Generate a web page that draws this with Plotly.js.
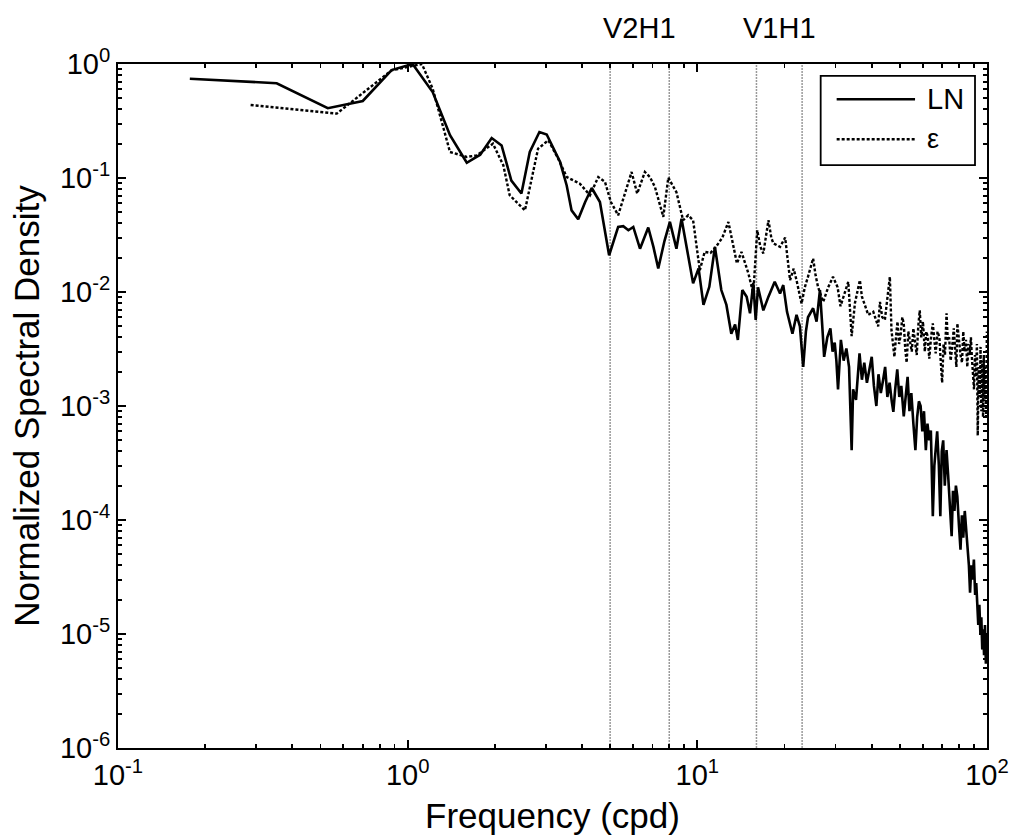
<!DOCTYPE html>
<html>
<head>
<meta charset="utf-8">
<script src="https://cdn.plot.ly/plotly-3.0.1.min.js"></script>
<style>html,body{margin:0;padding:0;background:#fff;}#chart{width:1013px;height:838px;}</style>
</head>
<body>
<div id="chart"></div>
<script>
// ---- data ----
var lnFreq = [0.177,0.353,0.53,0.70,0.88,1.04,1.22,1.40,1.60,1.78,1.95,2.11,2.28,2.47,2.64,2.85,3.02,3.2,3.36,3.54,3.68,3.88,4.10,4.32,4.61,4.96,5.33,5.55,5.78,6.01,6.34,6.77,7.05,7.33,7.7,8.04,8.47,8.82,9.2,9.67,10.1,10.5,11.0,11.5,12.1,12.6,13.1,13.5,13.8,14.3,14.8,15.2,15.6,15.9,16.2,16.9,17.6,18.5,19.3,19.8,20.4,21.3,22.0,22.6,23.2,23.7,24.1,25.1,25.8,26.5,27.0,27.4,28.1,28.8,29.3,29.8,30.2,30.6,31.3,32.0,32.7,33.4,34.1,34.5,35.3,35.8,36.3,37.0,37.7,38.5,39.2,40.0,40.7,41.5,42.2,43.0,43.8,44.5,45.3,46.1,46.9,47.5,48.2,49.0,49.8,50.6,51.6,52.4,53.2,54.0,54.8,55.7,56.6,57.4,58.2,59.0,59.8,60.6,61.5,62.3,63.2,64.0,64.5,65.0,65.8,66.5,67.3,68.2,69.0,69.8,70.6,71.5,72.5,73.4,74.4,75.5,76.3,77.2,78.1,79.0,80.0,81.0,81.9,82.8,83.8,84.8,85.7,86.6,87.4,88.3,89.2,90.1,91.0,91.8,92.5,93.3,94.1,94.9,95.6,96.3,97.0,97.7,98.4,99.1,99.8];
var lnPower = [0.743,0.678,0.409,0.474,0.885,1.0,0.567,0.237,0.136,0.16,0.224,0.193,0.095,0.073,0.169,0.253,0.241,0.18,0.138,0.086,0.052,0.0435,0.0616,0.0817,0.0616,0.021,0.0372,0.0378,0.0348,0.0372,0.024,0.0368,0.025,0.0161,0.028,0.0412,0.024,0.044,0.025,0.0119,0.0161,0.0077,0.0111,0.0249,0.0104,0.0077,0.0043,0.0052,0.0038,0.0104,0.0091,0.0065,0.012,0.0057,0.011,0.0069,0.0091,0.0123,0.0097,0.0115,0.0067,0.0043,0.0063,0.005,0.0022,0.0045,0.006,0.0072,0.0055,0.0104,0.005,0.0027,0.004,0.0048,0.003,0.0036,0.0025,0.0014,0.0038,0.0025,0.0032,0.0022,0.00041,0.0014,0.00113,0.002,0.0029,0.0017,0.0024,0.0016,0.0021,0.0027,0.0015,0.0010,0.0019,0.0013,0.0017,0.0022,0.0012,0.0016,0.0011,0.00089,0.0014,0.0021,0.0012,0.0015,0.00081,0.0013,0.0018,0.0009,0.0013,0.0007,0.00041,0.0008,0.0011,0.001,0.0006,0.0009,0.00041,0.0007,0.0005,0.00061,0.00025,0.000108,0.0003,0.00044,0.0006,0.0003,0.000108,0.0004,0.0005,0.0002,0.00041,0.00025,0.00015,0.000072,0.00018,0.00012,0.0002,0.00016,0.00009,0.000055,0.00011,0.00007,0.00012,0.00008,0.00005,0.00004,0.000023,0.00004,0.00003,0.000045,0.000022,0.000028,0.000019,0.000012,0.000018,0.00001,0.000014,0.0000073,0.000011,0.0000065,0.000012,0.0000055,0.00001];

var epsFreq = [0.287,0.569,0.88,1.12,1.22,1.40,1.60,1.73,1.97,2.14,2.25,2.54,2.82,3.06,3.30,3.54,3.93,4.26,4.55,4.80,5.03,5.33,5.93,6.20,6.59,6.86,7.14,7.63,7.94,8.47,8.93,9.30,9.67,10.2,10.6,11.1,11.6,12.2,12.8,13.2,13.7,14.2,15.0,15.6,16.1,16.5,16.9,17.6,18.0,18.3,19.3,20.1,20.9,21.5,22.0,22.9,23.5,24.1,25.1,25.6,26.1,27.2,28.3,29.4,30.5,31.2,31.9,33.2,34.1,35.0,36.4,37.0,38.0,38.9,40.5,41.3,42.1,42.7,43.5,44.4,45.3,46.2,46.8,47.9,48.5,49.1,49.7,50.3,51.0,51.6,52.2,52.8,53.5,54.2,55.0,55.7,56.4,57.2,57.9,58.6,59.3,60.1,61.0,61.7,62.4,63.2,64.1,65.0,65.8,66.5,67.5,68.5,69.2,70.0,70.8,71.6,72.5,73.2,74.0,74.9,76.0,76.8,77.7,78.4,79.0,80.0,81.0,82.0,82.8,83.7,84.6,85.5,86.3,87.1,88.0,88.8,89.5,90.2,90.9,91.6,92.3,92.9,93.6,94.3,95.0,95.6,96.3,96.9,97.5,98.1,98.7,99.3,99.9];
var epsPower = [0.437,0.367,0.88,1.0,0.607,0.169,0.153,0.158,0.20,0.129,0.0706,0.052,0.181,0.214,0.15,0.102,0.0893,0.0706,0.102,0.0923,0.0616,0.0471,0.113,0.073,0.113,0.102,0.0834,0.0456,0.1007,0.075,0.0426,0.0471,0.0426,0.0155,0.0225,0.022,0.0249,0.03,0.0412,0.028,0.0178,0.0225,0.0146,0.0097,0.0348,0.025,0.0218,0.0426,0.03,0.0267,0.0249,0.030,0.0127,0.016,0.0127,0.0079,0.011,0.0136,0.0197,0.014,0.0111,0.0082,0.011,0.0136,0.011,0.0075,0.0091,0.0123,0.0041,0.008,0.0127,0.0091,0.0075,0.0063,0.0067,0.0058,0.005,0.0082,0.006,0.0057,0.009,0.0136,0.0046,0.0027,0.004,0.0055,0.0035,0.0041,0.006,0.0053,0.0032,0.0024,0.0045,0.0038,0.003,0.0048,0.0035,0.0028,0.005,0.0069,0.004,0.0055,0.003,0.0045,0.0041,0.0026,0.004,0.0053,0.0038,0.0029,0.0045,0.004,0.0025,0.0016,0.0035,0.0028,0.0065,0.0038,0.004,0.0025,0.0035,0.0048,0.003,0.0022,0.0053,0.0035,0.0028,0.0024,0.0045,0.003,0.0038,0.0022,0.0035,0.0028,0.004,0.0025,0.0018,0.0014,0.0028,0.0018,0.0035,0.00055,0.0022,0.0012,0.0033,0.0009,0.0025,0.0008,0.0028,0.0011,0.0022,0.0008,0.0045];

var seriesNames = ['LN', 'ε'];
var modeFreqs = [5, 8, 16, 23];
var modeLabels = ['V2H1', 'V1H1'];
var xTickVals = [0.1, 1, 10, 100];
var xTickText = ['10<sup>-1</sup>', '10<sup>0</sup>', '10<sup>1</sup>', '10<sup>2</sup>'];
var yTickVals = [1e-6, 1e-5, 1e-4, 1e-3, 1e-2, 1e-1, 1];
var yTickText = ['10<sup>-6</sup>', '10<sup>-5</sup>', '10<sup>-4</sup>', '10<sup>-3</sup>', '10<sup>-2</sup>', '10<sup>-1</sup>', '10<sup>0</sup>'];

// ---- build ----
var FONT = 'Liberation Sans, Arial, Helvetica, sans-serif';
function minorVals(lo, hi) {
  var v = [];
  for (var e = lo; e < hi; e++) for (var m = 2; m <= 9; m++) v.push(m * Math.pow(10, e));
  return v;
}

var traces = [
  {x: lnFreq, y: lnPower, name: seriesNames[0], type: 'scatter', mode: 'lines',
   line: {color: '#000', width: 2.6}},
  {x: epsFreq, y: epsPower, name: seriesNames[1], type: 'scatter', mode: 'lines',
   line: {color: '#000', width: 2.4, dash: '3px,2px'}}
];

var shapes = modeFreqs.map(function (f) {
  return {type: 'line', xref: 'x', yref: 'paper', x0: f, x1: f, y0: 0, y1: 1,
          line: {color: '#9a9a9a', width: 1.5, dash: '2px,1px'}, layer: 'below'};
});
// legend box drawn as in the reference
shapes.push({type: 'rect', xref: 'paper', yref: 'paper', x0: 0.8086, x1: 0.9862, y0: 0.8523, y1: 0.9825,
             line: {color: '#000', width: 1.8}, fillcolor: '#fff', layer: 'above'});
shapes.push({type: 'line', xref: 'paper', yref: 'paper', x0: 0.827, x1: 0.9172, y0: 0.9484, y1: 0.9484,
             line: {color: '#000', width: 2.6}, layer: 'above'});
shapes.push({type: 'line', xref: 'paper', yref: 'paper', x0: 0.827, x1: 0.9172, y0: 0.8899, y1: 0.8899,
             line: {color: '#000', width: 2.4, dash: '3px,2px'}, layer: 'above'});

var annotations = [
  {text: modeLabels[0], x: Math.log10(Math.sqrt(modeFreqs[0] * modeFreqs[1])), xref: 'x', y: 1.0526, yref: 'paper',
   showarrow: false, xanchor: 'center', yanchor: 'middle', font: {family: FONT, size: 29, color: '#000'}},
  {text: modeLabels[1], x: Math.log10(Math.sqrt(modeFreqs[2] * modeFreqs[3])), xref: 'x', y: 1.0526, yref: 'paper',
   showarrow: false, xanchor: 'center', yanchor: 'middle', font: {family: FONT, size: 29, color: '#000'}},
  {text: seriesNames[0], x: 0.9287, xref: 'paper', y: 0.9484, yref: 'paper', showarrow: false,
   xanchor: 'left', yanchor: 'middle', font: {family: FONT, size: 29, color: '#000'}},
  {text: seriesNames[1], x: 0.9287, xref: 'paper', y: 0.8899, yref: 'paper', showarrow: false,
   xanchor: 'left', yanchor: 'middle', font: {family: FONT, size: 27, color: '#000'}}
];

var axisCommon = {
  type: 'log', showgrid: false, zeroline: false, showline: true, linecolor: '#000', linewidth: 2,
  mirror: 'allticks', ticks: 'inside', ticklen: 8, tickwidth: 1.8, tickcolor: '#000',
  tickmode: 'array', tickfont: {family: FONT, size: 29, color: '#000'}
};

var layout = {
  width: 1013, height: 838,
  margin: {l: 118, r: 26, t: 64, b: 90, pad: 0},
  paper_bgcolor: '#fff', plot_bgcolor: '#fff',
  showlegend: false,
  font: {family: FONT, color: '#000'},
  xaxis: Object.assign({}, axisCommon, {
    range: [-1, 2], tickvals: xTickVals, ticktext: xTickText,
    minor: {tickmode: 'array', tickvals: minorVals(-1, 2), ticks: 'inside', ticklen: 4, tickwidth: 1.8, tickcolor: '#000'},
    title: {text: 'Frequency (cpd)', font: {family: FONT, size: 35, color: '#000'}, standoff: 14}
  }),
  yaxis: Object.assign({}, axisCommon, {
    range: [-6, 0], tickvals: yTickVals, ticktext: yTickText,
    minor: {tickmode: 'array', tickvals: minorVals(-6, 0), ticks: 'inside', ticklen: 4, tickwidth: 1.8, tickcolor: '#000'},
    title: {text: 'Normalized Spectral Density', font: {family: FONT, size: 35, color: '#000'}, standoff: 10}
  }),
  shapes: shapes,
  annotations: annotations
};

Plotly.newPlot('chart', traces, layout, {displayModeBar: false, staticPlot: true});
</script>
</body>
</html>
